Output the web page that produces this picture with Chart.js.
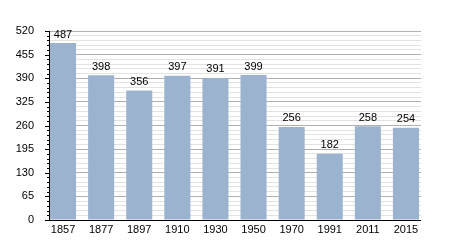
<!DOCTYPE html>
<html>
<head>
<meta charset="utf-8">
<script src="https://cdn.jsdelivr.net/npm/chart.js@4"></script>
<style>
  html, body { margin: 0; padding: 0; background: #fff; }
  #wrap { width: 450px; height: 250px; }
</style>
</head>
<body>
<div id="wrap"><canvas id="popChart" width="450" height="250"></canvas></div>
<script>
const years = ['1857', '1877', '1897', '1910', '1930', '1950', '1970', '1991', '2011', '2015'];
const population = [487, 398, 356, 397, 391, 399, 256, 182, 258, 254];
const yTickLabels = [0, 65, 130, 195, 260, 325, 390, 455, 520];

const FONT = 'Liberation Sans, Arial, sans-serif';

// value labels above each bar
const valueLabels = {
    id: 'valueLabels',
    afterDatasetsDraw(chart) {
        const ctx = chart.ctx;
        const meta = chart.getDatasetMeta(0);
        ctx.save();
        ctx.font = '11px ' + FONT;
        ctx.fillStyle = '#000';
        ctx.textAlign = 'center';
        ctx.textBaseline = 'bottom';
        meta.data.forEach((bar, i) => {
            ctx.fillText(population[i], bar.x, bar.y - 3);
        });
        ctx.restore();
    }
};

// tick marks on the y axis (major longer than minor) and black axis lines
const axisMarks = {
    id: 'axisMarks',
    afterDraw(chart) {
        const ctx = chart.ctx;
        const y = chart.scales.y;
        const area = chart.chartArea;
        ctx.save();
        ctx.strokeStyle = '#000';
        ctx.lineWidth = 1;
        y.ticks.forEach(t => {
            const py = Math.round(y.getPixelForValue(t.value)) + 0.5;
            const len = yTickLabels.includes(t.value) ? 5 : 3;
            ctx.beginPath();
            ctx.moveTo(area.left - len, py);
            ctx.lineTo(area.left, py);
            ctx.stroke();
        });
        ctx.beginPath();
        ctx.moveTo(area.left - 0.5, area.top);
        ctx.lineTo(area.left - 0.5, area.bottom + 1);
        ctx.moveTo(area.left - 1, area.bottom + 0.5);
        ctx.lineTo(area.right, area.bottom + 0.5);
        ctx.stroke();
        ctx.restore();
    }
};

new Chart(document.getElementById('popChart'), {
    type: 'bar',
    data: {
        datasets: [{
            data: population.map((v, i) => ({ x: i, y: v })),
            backgroundColor: 'rgb(155, 179, 206)',
            borderWidth: 0,
            barPercentage: 0.684,
            categoryPercentage: 1.0
        }]
    },
    options: {
        responsive: false,
        animation: false,
        layout: { padding: { top: 31, right: 29, left: 0, bottom: 0 } },
        plugins: { legend: { display: false }, tooltip: { enabled: false } },
        scales: {
            x: {
                type: 'linear',
                offset: false,
                min: -0.342,
                max: 9.395,
                grid: { display: false, drawTicks: false },
                border: { display: false },
                afterBuildTicks: s => { s.ticks = years.map((y, i) => ({ value: i })); },
                ticks: {
                    autoSkip: false,
                    maxRotation: 0,
                    color: '#000',
                    padding: 3,
                    font: { family: FONT, size: 11 },
                    callback: v => years[v]
                },
                afterFit: s => { s.height = 30; }
            },
            y: {
                min: 0,
                max: 520,
                border: { display: false },
                grid: {
                    drawTicks: false,
                    color: c => yTickLabels.includes(c.tick.value) ? '#b0b0b0' : '#e2e2e2'
                },
                ticks: {
                    stepSize: 13,
                    autoSkip: false,
                    color: '#000',
                    padding: 16,
                    font: { family: FONT, size: 11 },
                    callback: v => yTickLabels.includes(v) ? v : ''
                },
                afterFit: s => { s.width = 50; }
            }
        }
    },
    plugins: [valueLabels, axisMarks]
});
</script>
</body>
</html>
